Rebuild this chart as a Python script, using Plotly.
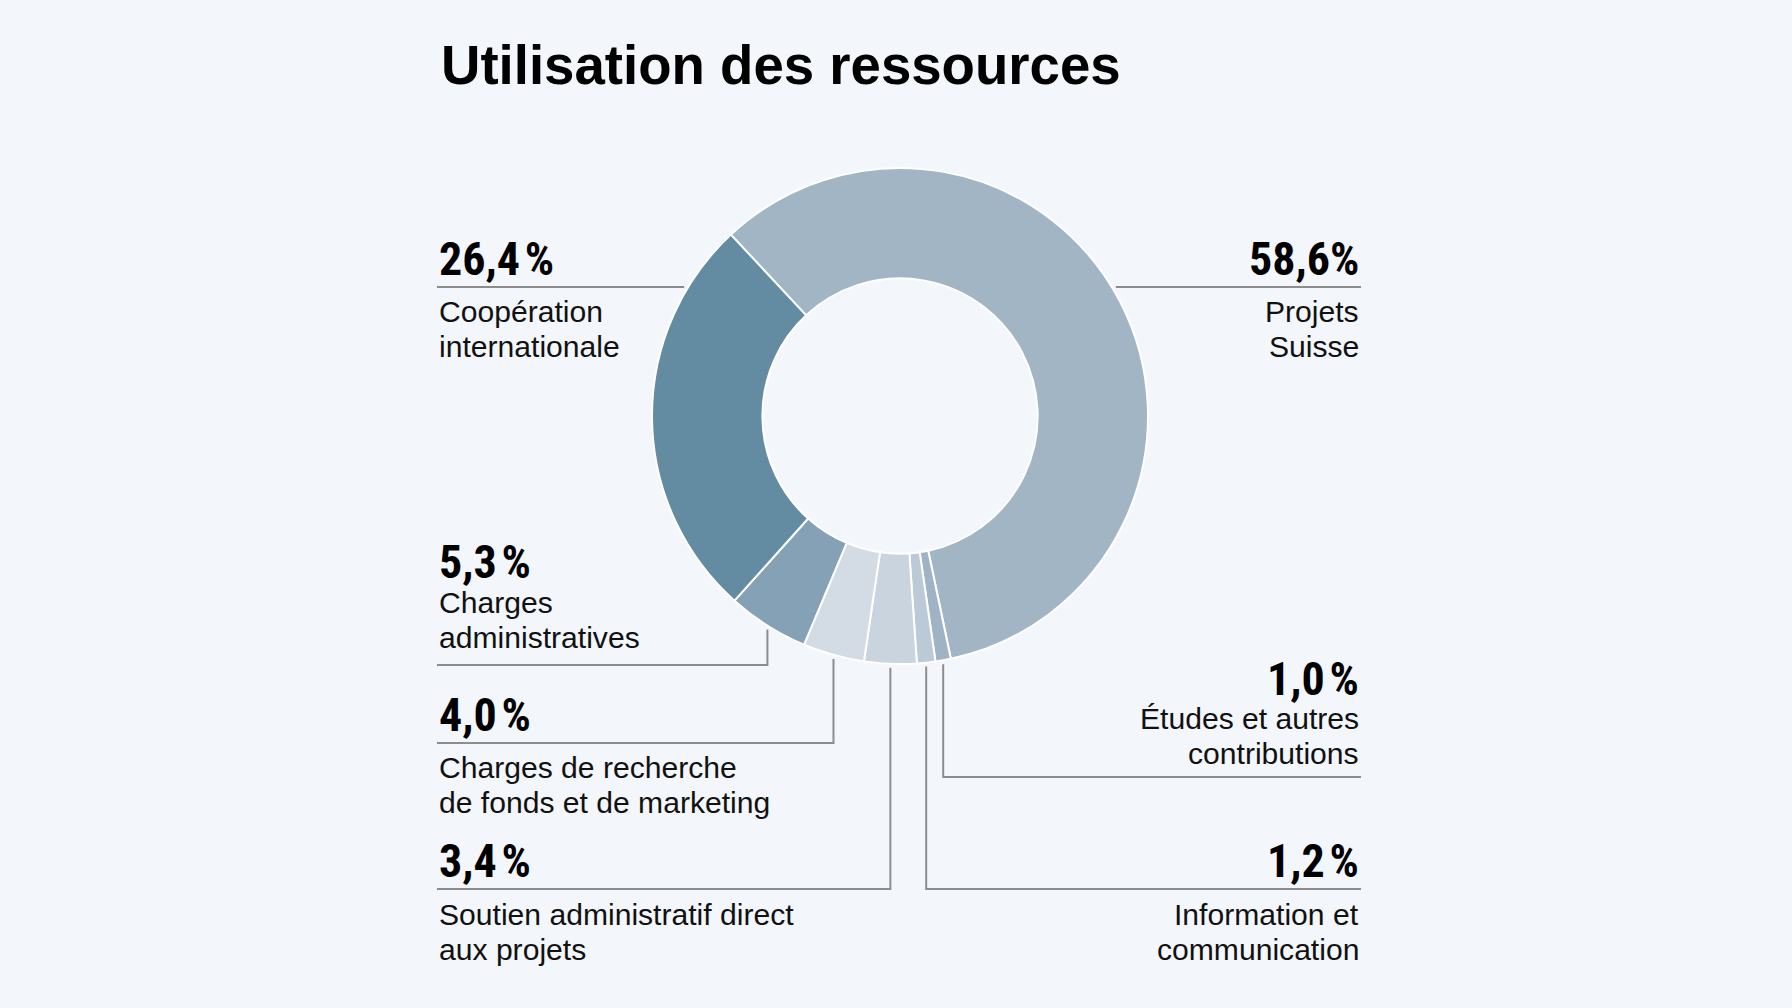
import math
import plotly.graph_objects as go

# ---------------- data ----------------
categories = [
    "Projets<br>Suisse",
    "Études et autres<br>contributions",
    "Information et<br>communication",
    "Soutien administratif direct<br>aux projets",
    "Charges de recherche<br>de fonds et de marketing",
    "Charges<br>administratives",
    "Coopération<br>internationale",
]
values = [58.6, 1.0, 1.2, 3.4, 4.0, 5.3, 26.4]
pct_labels = ["58,6%", "1,0\u200a%", "1,2\u200a%", "3,4\u200a%", "4,0\u200a%", "5,3\u200a%", "26,4\u200a%"]

# ---------------- styles / layout ----------------
colors = ["#a2b5c5", "#9fb3c4", "#bccad8", "#c9d4df", "#d3dce5", "#84a1b5", "#638ca3"]
BG = "#f3f6fb"
W, H = 1792, 1008
CX, CY, R = 900, 416, 248
HOLE = 0.555
ROT = -43  # start angle, clockwise from 12 o'clock

LEFT_X, RIGHT_X = 437, 1361
LINE_COLOR = "#8d8d8d"
GAP = 4

# per-slice label placement: side, percent y, leader y, first label line y, leader kind
place = [
    dict(side="right", py=259, ly=287, ty=311, kind="edge"),
    dict(side="right", py=679, ly=777, ty=718, kind="drop"),
    dict(side="right", py=861, ly=889, ty=914, kind="drop"),
    dict(side="left", py=861, ly=889, ty=914, kind="drop"),
    dict(side="left", py=715, ly=743, ty=767, kind="drop"),
    dict(side="left", py=562, ly=665, ty=602, kind="drop"),
    dict(side="left", py=259, ly=287, ty=311, kind="edge"),
]
LINE_H = 35

TXT_FONT = "Liberation Sans, Arial, Helvetica, sans-serif"
PCT_FONT = "Roboto Condensed, Liberation Sans Narrow, Roboto, sans-serif"

fig = go.Figure()
fig.add_trace(go.Pie(
    values=values,
    labels=[c.replace("<br>", " ") for c in categories],
    sort=False,
    direction="clockwise",
    rotation=ROT,
    hole=HOLE,
    marker=dict(colors=colors, line=dict(color="white", width=2)),
    textinfo="none",
    hoverinfo="label+percent",
    showlegend=False,
    domain=dict(x=[(CX - R) / W, (CX + R) / W], y=[(H - CY - R) / H, (H - CY + R) / H]),
))

# invisible pixel-coordinate axes for annotations / leader lines
fig.add_trace(go.Scatter(x=[0, W], y=[0, H], mode="markers", marker=dict(opacity=0),
                         hoverinfo="skip", showlegend=False))

total = sum(values)
shapes = []
annotations = []
cum = 0.0
for i, v in enumerate(values):
    a0 = ROT + cum / total * 360
    a1 = ROT + (cum + v) / total * 360
    cum += v
    mid = math.radians((a0 + a1) / 2)
    p = place[i]
    xa = "left" if p["side"] == "left" else "right"
    colx = LEFT_X if p["side"] == "left" else RIGHT_X

    # percent
    annotations.append(dict(x=colx, y=p["py"], text=pct_labels[i],
                            xanchor=xa, yanchor="middle", showarrow=False,
                            font=dict(family=PCT_FONT, size=46, color="#000000", weight=700)))
    # label lines
    for k, line in enumerate(categories[i].split("<br>")):
        annotations.append(dict(x=colx, y=p["ty"] + k * LINE_H, text=line,
                                xanchor=xa, yanchor="middle", showarrow=False,
                                font=dict(family=TXT_FONT, size=30.1, color="#111111")))
    # leader lines
    ly = p["ly"]
    if p["kind"] == "edge":
        dx = math.sqrt(R ** 2 - (ly - CY) ** 2)
        xe = CX - dx - GAP if p["side"] == "left" else CX + dx + GAP
        shapes.append(dict(type="line", x0=colx, x1=xe, y0=ly, y1=ly,
                           line=dict(color=LINE_COLOR, width=2)))
    else:
        xm = CX + R * math.sin(mid)
        ye = CY + math.sqrt(max(R ** 2 - (xm - CX) ** 2, 0)) + GAP
        shapes.append(dict(type="path",
                           path=f"M {colx},{ly} L {xm:.2f},{ly} L {xm:.2f},{ye:.2f}",
                           line=dict(color=LINE_COLOR, width=2)))

annotations.append(dict(x=LEFT_X + 2, y=65, text="<b>Utilisation des ressources</b>",
                        xanchor="left", yanchor="middle", showarrow=False,
                        font=dict(family=TXT_FONT, size=54.6, color="#000000")))

for s in shapes:
    s.update(xref="x", yref="y", layer="above")
for a in annotations:
    a.update(xref="x", yref="y")

fig.update_layout(
    width=W, height=H,
    margin=dict(l=0, r=0, t=0, b=0),
    paper_bgcolor=BG, plot_bgcolor=BG,
    xaxis=dict(range=[0, W], visible=False, fixedrange=True, domain=[0, 1]),
    yaxis=dict(range=[H, 0], visible=False, fixedrange=True, domain=[0, 1]),
    shapes=shapes,
    annotations=annotations,
)

fig.write_html("out.html", config=dict(displayModeBar=False))
